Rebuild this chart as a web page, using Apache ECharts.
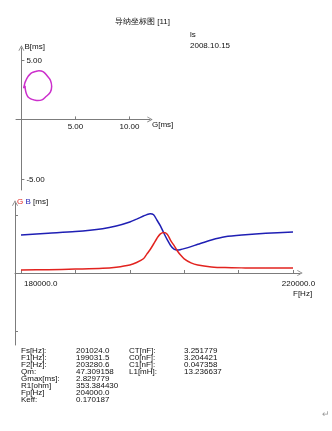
<!DOCTYPE html>
<html>
<head>
<meta charset="utf-8">
<script src="https://cdn.jsdelivr.net/npm/echarts@6/dist/echarts.min.js"></script>
<style>
html,body{margin:0;padding:0;background:#fff;}
#chart{width:332px;height:431px;}
</style>
</head>
<body>
<div id="chart"></div>
<script>
// ---- data ----
const freqHz = [180000,184000,188000,192000,194000,196000,197000,198000,198500,199000,199500,200000,200500,201000,201500,202000,202500,203000,203500,204000,205000,206000,208000,210000,213000,216000,220000];
const gValues = [0.21,0.23,0.27,0.32,0.40,0.55,0.72,0.98,1.30,1.62,2.00,2.40,2.70,2.80,2.68,2.25,1.90,1.52,1.22,0.98,0.70,0.55,0.42,0.37,0.35,0.34,0.34];
const bValues = [2.62,2.74,2.86,3.06,3.24,3.52,3.72,3.93,4.03,4.09,4.02,3.64,3.25,2.76,2.30,1.90,1.64,1.58,1.62,1.68,1.82,1.98,2.28,2.50,2.64,2.74,2.83];

const upperXTicks = [5, 10];
const upperYTicks = [5, -5];
const lowerXTicks = [180000,188000,196000,204000,212000,220000];
const lowerXLabels = [180000, 220000];
const lowerYTicks = [4, -4];

const titleText = '导纳坐标图 [11]';
const operatorText = 'ls';
const dateText = '2008.10.15';

const paramNames1 = ['Fs[Hz]:','F1[Hz]:','F2[Hz]:','Qm:','Gmax[ms]:','R1[ohm]','Fp[Hz]','Keff:'];
const paramValues1 = ['201024.0','199031.5','203280.6','47.309158','2.829779','353.384430','204000.0','0.170187'];
const paramNames2 = ['CT[nF]:','C0[nF]:','C1[nF]:','L1[mH]:'];
const paramValues2 = ['3.251779','3.204421','0.047358','13.236637'];

// ---- styles ----
const FONT = 'Liberation Sans, Arial, sans-serif';
const AXIS = '#7c7c7c';
const TXT = '#111';
const RED = '#e2231f';
const BLUE = '#1f1fb4';
const MAGENTA = '#cc2fcc';
const ARROW = 'path://M5,0 L10,9 L8.6,9 L5,2.4 L1.4,9 L0,9 Z';

const chart = echarts.init(document.getElementById('chart'), null, {renderer:'canvas'});

const lineG = freqHz.map((f,i)=>[f,gValues[i]]);
const lineB = freqHz.map((f,i)=>[f,bValues[i]]);
const circle = freqHz.map((f,i)=>[gValues[i],bValues[i]]);

function axisLine(){ return {show:true, onZero:true, symbol:['none',ARROW], symbolSize:[6,6], lineStyle:{color:AXIS,width:1}}; }

const texts = [];
function txt(x,y,t,extra){ texts.push({type:'text', x:x, y:y, silent:true, style:Object.assign({text:t, fontSize:8, fontFamily:FONT, fill:TXT, align:'left', verticalAlign:'middle'}, extra||{})}); }
txt(115,22,titleText);
txt(190,35,operatorText);
txt(190,46,dateText);
paramNames1.forEach((n,i)=>{ txt(21,350.5+i*7,n); txt(76,350.5+i*7,paramValues1[i]); });
paramNames2.forEach((n,i)=>{ txt(129,350.5+i*7,n); txt(184,350.5+i*7,paramValues2[i]); });
txt(322,415,'↵',{fill:'#9a9a9a',fontSize:9});

const option = {
  animation:false,
  backgroundColor:'#fff',
  textStyle:{fontFamily:FONT},
  grid:[
    {left:16, top:48, width:134, height:142},
    {left:15, top:203, width:285, height:142}
  ],
  xAxis:[
    {type:'value', gridIndex:0, min:-0.5, max:11.9,
     axisLine:axisLine(),
     splitLine:{show:false},
     axisTick:{show:true, inside:true, length:3, customValues:upperXTicks, lineStyle:{color:AXIS}},
     axisLabel:{show:false},
     name:'G[ms]', nameLocation:'end', nameGap:2,
     nameTextStyle:{fontSize:8, color:TXT, align:'left', verticalAlign:'top', padding:[1,0,0,0]}
    },
    {type:'value', gridIndex:1, min:179118, max:221029,
     axisLine:axisLine(),
     splitLine:{show:false},
     axisTick:{show:true, inside:true, length:3, customValues:lowerXTicks, lineStyle:{color:AXIS}},
     axisLabel:{show:false},
     name:'F[Hz]', nameLocation:'end', nameGap:-7,
     nameTextStyle:{fontSize:8, color:TXT, align:'left', verticalAlign:'top', padding:[17,0,0,0]}
    }
  ],
  yAxis:[
    {type:'value', gridIndex:0, min:-5.93, max:6.0,
     axisLine:axisLine(),
     splitLine:{show:false},
     axisTick:{show:true, inside:true, length:3, customValues:upperYTicks, lineStyle:{color:AXIS}},
     axisLabel:{show:false},
     name:'B[ms]', nameLocation:'end', nameGap:1,
     nameTextStyle:{fontSize:8, color:TXT, align:'left', verticalAlign:'middle', padding:[0,0,0,3]}
    },
    {type:'value', gridIndex:1, min:-4.97, max:4.83,
     axisLine:axisLine(),
     splitLine:{show:false},
     axisTick:{show:true, inside:true, length:3, customValues:lowerYTicks, lineStyle:{color:AXIS}},
     axisLabel:{show:false},
     name:'{g|G} {b|B} {k|[ms]}', nameLocation:'end', nameGap:1,
     nameTextStyle:{fontSize:8, color:TXT, align:'left', verticalAlign:'middle', padding:[0,0,0,2],
       rich:{g:{color:RED,fontSize:8,fontFamily:FONT}, b:{color:BLUE,fontSize:8,fontFamily:FONT}, k:{color:TXT,fontSize:8,fontFamily:FONT}}}
    }
  ],
  series:[
    {type:'line', xAxisIndex:0, yAxisIndex:0, data:circle, smooth:0.4, showSymbol:false,
     lineStyle:{color:MAGENTA, width:1.5}},
    {type:'line', xAxisIndex:1, yAxisIndex:1, data:lineB, smooth:0.3, showSymbol:false,
     lineStyle:{color:BLUE, width:1.5}},
    {type:'line', xAxisIndex:1, yAxisIndex:1, data:lineG, smooth:0.3, showSymbol:false,
     lineStyle:{color:RED, width:1.5}}
  ]
};
chart.setOption(option);

// tick labels placed through the axes' own scales
upperXTicks.forEach(v=>{
  const p = chart.convertToPixel({gridIndex:0}, [v,0]);
  txt(p[0], p[1]+7.5, v.toFixed(2), {align:'center'});
});
upperYTicks.forEach(v=>{
  const p = chart.convertToPixel({gridIndex:0}, [0,v]);
  txt(p[0]+5, p[1]+0.5, v.toFixed(2));
});
lowerXLabels.forEach((v,i)=>{
  const p = chart.convertToPixel({gridIndex:1}, [v,0]);
  if(i===0) txt(p[0]+3, p[1]+11, v.toFixed(1), {align:'left'});
  else txt(p[0]+5.5, p[1]+11, v.toFixed(1), {align:'center'});
});
chart.setOption({graphic: texts});
</script>
</body>
</html>
